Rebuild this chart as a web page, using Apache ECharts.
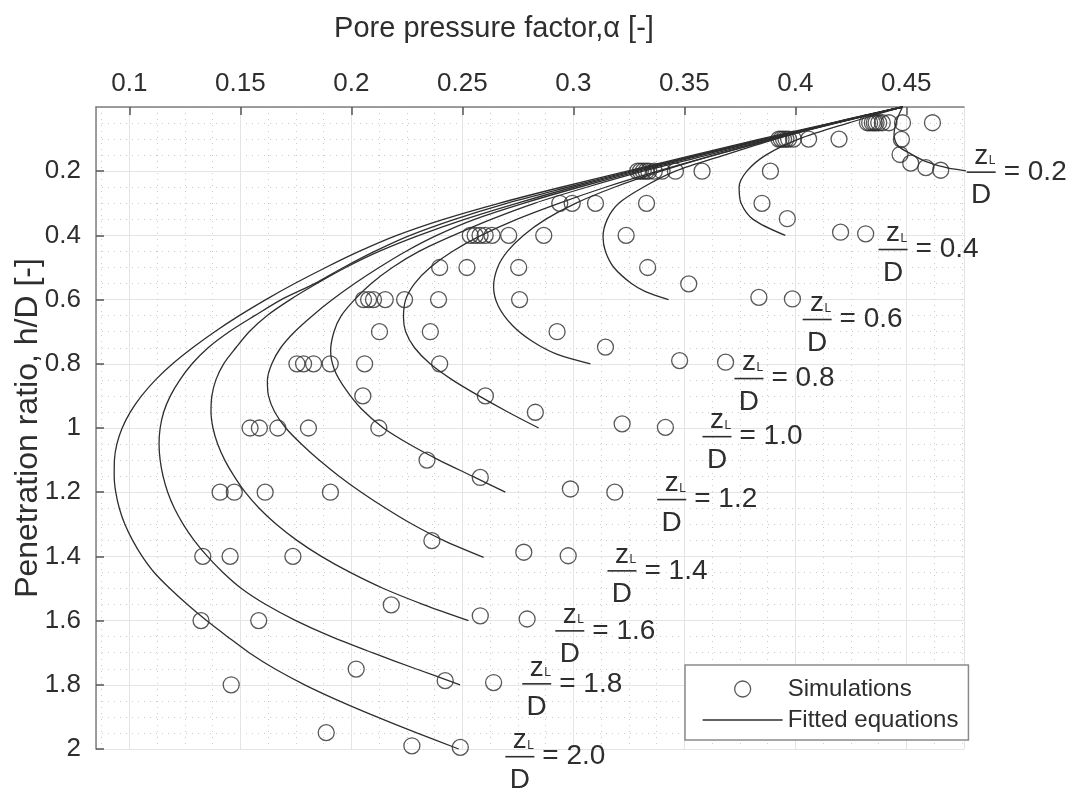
<!DOCTYPE html>
<html><head><meta charset="utf-8">
<script src="https://cdn.jsdelivr.net/npm/echarts@6/dist/echarts.min.js"></script>
<style>html,body{margin:0;padding:0;background:#fff}#c{width:1073px;height:789px}</style>
</head><body><div id="c"></div>
<script>
// ---------------- data (alpha, h/D) ----------------
const xTitle = 'Pore pressure factor,\u03b1 [-]';
const yTitle = 'Penetration ratio, h/D [-]';
const legendNames = ['Simulations', 'Fitted equations'];
const zLLabels = ['0.2','0.4','0.6','0.8','1.0','1.2','1.4','1.6','1.8','2.0'];

const fit02 = [[0.4483,0],[0.4458,0.04],[0.4445,0.083],[0.4462,0.12],[0.452,0.146],[0.4596,0.172],[0.4686,0.19],[0.478,0.2]];
const fit04 = [[0.4483,0],[0.4238,0.05],[0.4015,0.1],[0.3867,0.15],[0.3782,0.2],[0.3747,0.25],[0.3756,0.3],[0.381,0.35],[0.3955,0.4]];
const fit06 = [[0.4483,0],[0.4165,0.05],[0.391,0.1],[0.368,0.15],[0.346,0.2],[0.3315,0.25],[0.3205,0.3],[0.3153,0.35],[0.3134,0.405],[0.3145,0.45],[0.3183,0.5],[0.3262,0.55],[0.3325,0.575],[0.3429,0.6]];
const fit08 = [[0.4483,0],[0.4175,0.05],[0.39,0.1],[0.3635,0.15],[0.3395,0.2],[0.3185,0.25],[0.301,0.3],[0.2875,0.35],[0.2775,0.4],[0.2703,0.45],[0.2659,0.5],[0.2641,0.56],[0.2662,0.62],[0.2725,0.68],[0.2815,0.73],[0.2925,0.77],[0.3077,0.8]];
const fit10 = [[0.4483,0],[0.4185,0.05],[0.3905,0.1],[0.3635,0.15],[0.338,0.2],[0.3145,0.25],[0.2935,0.3],[0.2745,0.35],[0.2585,0.4],[0.2455,0.45],[0.2355,0.5],[0.2285,0.55],[0.2245,0.6],[0.2235,0.655],[0.2245,0.7],[0.2285,0.75],[0.2355,0.8],[0.2455,0.85],[0.2575,0.9],[0.2705,0.95],[0.2844,1.0]];
const fit12 = [[0.4483,0],[0.418,0.05],[0.389,0.1],[0.3605,0.15],[0.3315,0.2],[0.306,0.25],[0.2825,0.3],[0.263,0.35],[0.246,0.4],[0.2305,0.45],[0.2185,0.5],[0.209,0.55],[0.2015,0.6],[0.1955,0.65],[0.1922,0.7],[0.1907,0.76],[0.1925,0.82],[0.1975,0.88],[0.2045,0.94],[0.2145,1.0],[0.226,1.05],[0.2395,1.1],[0.2545,1.15],[0.2694,1.2]];
const fit14 = [[0.4483,0],[0.4175,0.05],[0.3875,0.1],[0.358,0.15],[0.3295,0.2],[0.3025,0.25],[0.2775,0.3],[0.2555,0.35],[0.2385,0.4],[0.2245,0.45],[0.2125,0.5],[0.2015,0.55],[0.1915,0.6],[0.1825,0.65],[0.1745,0.7],[0.1682,0.75],[0.1642,0.8],[0.1622,0.852],[0.1627,0.9],[0.1655,0.95],[0.1705,1.0],[0.1775,1.05],[0.1855,1.1],[0.1945,1.15],[0.2045,1.2],[0.2155,1.25],[0.2275,1.3],[0.2415,1.35],[0.2596,1.403]];
const fit16 = [[0.4483,0],[0.417,0.05],[0.3865,0.1],[0.3565,0.15],[0.3275,0.2],[0.3,0.25],[0.2745,0.3],[0.251,0.35],[0.2305,0.4],[0.2125,0.45],[0.1975,0.5],[0.1845,0.55],[0.1725,0.6],[0.162,0.65],[0.154,0.7],[0.148,0.75],[0.1425,0.8],[0.139,0.85],[0.1372,0.9],[0.1368,0.95],[0.1377,1.0],[0.1398,1.05],[0.143,1.1],[0.1472,1.15],[0.1522,1.2],[0.1585,1.25],[0.1662,1.3],[0.1755,1.35],[0.1865,1.4],[0.1995,1.45],[0.2145,1.5],[0.2325,1.55],[0.2528,1.6]];
const fit18 = [[0.4483,0],[0.4165,0.05],[0.3855,0.1],[0.3555,0.15],[0.326,0.2],[0.2975,0.25],[0.27,0.3],[0.2465,0.35],[0.2265,0.4],[0.2105,0.45],[0.1965,0.5],[0.1835,0.55],[0.1685,0.6],[0.1565,0.65],[0.145,0.7],[0.1355,0.75],[0.1283,0.8],[0.1228,0.85],[0.1185,0.9],[0.1155,0.95],[0.1139,1.0],[0.1134,1.05],[0.1139,1.1],[0.1152,1.15],[0.1173,1.2],[0.1203,1.25],[0.1243,1.3],[0.1292,1.35],[0.1352,1.4],[0.1422,1.45],[0.1505,1.5],[0.1615,1.55],[0.175,1.6],[0.191,1.65],[0.2095,1.7],[0.229,1.75],[0.249,1.8]];
const fit20 = [[0.4483,0],[0.416,0.05],[0.384,0.1],[0.354,0.15],[0.3243,0.2],[0.2945,0.25],[0.2665,0.3],[0.2415,0.35],[0.2205,0.4],[0.2035,0.45],[0.1885,0.5],[0.1745,0.55],[0.1615,0.6],[0.1495,0.65],[0.1385,0.7],[0.1285,0.75],[0.1195,0.8],[0.1118,0.85],[0.1055,0.9],[0.1005,0.95],[0.0968,1.0],[0.0944,1.05],[0.0933,1.1],[0.0932,1.15],[0.0939,1.2],[0.0955,1.25],[0.098,1.3],[0.1015,1.35],[0.1058,1.4],[0.1112,1.45],[0.1183,1.5],[0.1262,1.55],[0.1348,1.6],[0.1442,1.65],[0.154,1.7],[0.1655,1.75],[0.179,1.8],[0.1945,1.85],[0.2115,1.9],[0.2295,1.95],[0.2484,2.0]];

const simulations = [
  [0.4325,0.049],[0.4335,0.049],[0.4347,0.049],[0.4356,0.049],[0.4364,0.049],[0.4376,0.049],[0.4392,0.049],[0.4422,0.049],[0.4483,0.049],[0.4618,0.049],
  [0.3926,0.1],[0.3936,0.1],[0.3947,0.1],[0.3958,0.1],[0.397,0.1],[0.3992,0.1],[0.406,0.1],[0.4197,0.1],[0.4478,0.101],
  [0.4472,0.148],[0.452,0.175],[0.4588,0.189],[0.4655,0.197],
  [0.329,0.2],[0.3302,0.2],[0.3315,0.2],[0.3328,0.2],[0.334,0.2],[0.3365,0.2],[0.34,0.2],[0.346,0.2],[0.358,0.2],[0.3888,0.2],
  [0.2939,0.3],[0.2995,0.3],[0.31,0.3],[0.333,0.3],[0.385,0.3],
  [0.3964,0.348],[0.4204,0.39],[0.4317,0.395],
  [0.2536,0.4],[0.2558,0.4],[0.258,0.4],[0.2603,0.4],[0.2634,0.4],[0.2709,0.4],[0.2867,0.4],[0.3238,0.4],
  [0.2398,0.5],[0.2521,0.5],[0.2754,0.5],[0.3335,0.5],
  [0.352,0.551],[0.3836,0.593],[0.3987,0.598],
  [0.2055,0.6],[0.2078,0.6],[0.21,0.6],[0.2153,0.6],[0.224,0.6],[0.2393,0.6],[0.2758,0.6],
  [0.2127,0.7],[0.2356,0.7],[0.2927,0.7],
  [0.3145,0.748],[0.3479,0.79],[0.3686,0.795],
  [0.1755,0.8],[0.1785,0.8],[0.183,0.8],[0.1905,0.8],[0.206,0.8],[0.2398,0.8],
  [0.2052,0.9],[0.2604,0.9],
  [0.2829,0.951],[0.322,0.987],[0.3415,0.998],
  [0.1544,1.0],[0.1586,1.0],[0.1669,1.0],[0.1807,1.0],[0.2124,1.0],
  [0.2341,1.1],[0.2581,1.154],[0.2987,1.19],[0.3187,1.2],
  [0.1409,1.2],[0.1473,1.2],[0.1612,1.2],[0.1906,1.2],
  [0.1331,1.4],[0.1454,1.4],[0.1737,1.4],[0.2363,1.351],[0.2777,1.387],[0.2977,1.398],
  [0.1323,1.6],[0.1583,1.6],[0.218,1.551],[0.2581,1.585],[0.2792,1.595],
  [0.1459,1.8],[0.2022,1.751],[0.2423,1.787],[0.2641,1.793],
  [0.1887,1.949],[0.2273,1.99],[0.2491,1.995]
];

// anchor of each "zL/D = ..." annotation (left end of the fraction bar)
const labelAnchors = [[0.4772,0.203],[0.4375,0.444],[0.4033,0.662],[0.3726,0.846],[0.3582,1.027],[0.3378,1.223],[0.3154,1.445],[0.2919,1.632],[0.277,1.797],[0.2694,2.024]];

// ---------------- chart ----------------
const FONT = "'Liberation Sans', Arial, Helvetica, sans-serif";
const INK = '#2e2e2e';
const fits = [fit02, fit04, fit06, fit08, fit10, fit12, fit14, fit16, fit18, fit20];

function renderLabel(params, api) {
  const p = api.coord([api.value(0), api.value(1)]);
  const x = p[0], y = p[1];
  const txt = zLLabels[params.dataIndex];
  return {
    type: 'group',
    children: [
      {type: 'text', x: x + 14.5, y: y - 16, style: {text: 'z', align: 'center', verticalAlign: 'middle', font: '28px ' + FONT, fill: INK}},
      {type: 'text', x: x + 22, y: y - 11, style: {text: 'L', align: 'left', verticalAlign: 'middle', font: '12px ' + FONT, fill: INK}},
      {type: 'line', shape: {x1: x, y1: y, x2: x + 29, y2: y}, style: {stroke: INK, lineWidth: 1.6}},
      {type: 'text', x: x + 14.5, y: y + 23.5, style: {text: 'D', align: 'center', verticalAlign: 'middle', font: '28px ' + FONT, fill: INK}},
      {type: 'text', x: x + 37, y: y, style: {text: '= ' + txt, align: 'left', verticalAlign: 'middle', font: '28px ' + FONT, fill: INK}}
    ]
  };
}

const series = [{
  name: legendNames[0], type: 'scatter', data: simulations, symbol: 'circle', symbolSize: 16,
  itemStyle: {color: 'rgba(0,0,0,0)', borderColor: INK, borderWidth: 1.3}, z: 3, silent: true
}];
fits.forEach(f => series.push({
  name: legendNames[1], type: 'line', data: f, showSymbol: false, symbol: 'none', smooth: 0.3,
  itemStyle: {color: INK}, lineStyle: {color: INK, width: 1.3}, z: 4, silent: true
}));
series.push({type: 'custom', name: 'labels', renderItem: renderLabel, data: labelAnchors, z: 5, silent: true, clip: false});

const option = {
  animation: false,
  backgroundColor: '#ffffff',
  grid: {left: 96, right: 109, top: 107, bottom: 40, containLabel: false, outerBoundsMode: 'none'},
  legend: {
    data: [
      {name: legendNames[0], icon: 'circle', itemStyle: {color: 'rgba(0,0,0,0)', borderColor: INK, borderWidth: 1.3}},
      {name: legendNames[1], itemStyle: {opacity: 0}, lineStyle: {color: INK, width: 1.3}}
    ],
    orient: 'vertical', left: 685, top: 665,
    itemWidth: 80, itemHeight: 16, itemGap: 7,
    padding: [12, 10, 8, 17],
    borderColor: '#8a8a8a', borderWidth: 1.5, borderRadius: 0, backgroundColor: '#fff',
    textStyle: {fontSize: 24, color: INK, fontFamily: FONT}
  },
  xAxis: {
    type: 'value', position: 'top', min: 0.085, max: 0.476, splitNumber: 8,
    name: xTitle, nameLocation: 'middle', nameGap: 64, nameMoveOverlap: false,
    nameTextStyle: {fontSize: 29, color: INK, fontFamily: FONT, padding: [0, 72, 0, 0]},
    axisLine: {show: true, lineStyle: {color: '#808080', width: 1.5}},
    axisTick: {show: true, inside: true, length: 8, lineStyle: {color: '#555', width: 1.5}},
    axisLabel: {fontSize: 26, color: INK, fontFamily: FONT, margin: 10, showMinLabel: false, showMaxLabel: false},
    splitLine: {show: true, lineStyle: {color: '#e4e4e4', width: 1}},
    minorTick: {show: false, splitNumber: 4},
    minorSplitLine: {show: true, lineStyle: {color: '#cccccc', width: 1, type: [1, 5]}}
  },
  yAxis: {
    type: 'value', inverse: true, min: 0, max: 2, interval: 0.2,
    name: yTitle, nameLocation: 'middle', nameGap: 52, nameRotate: 90, nameMoveOverlap: false,
    nameTextStyle: {fontSize: 32, color: INK, fontFamily: FONT},
    axisLine: {show: true, lineStyle: {color: '#808080', width: 1.5}},
    axisTick: {show: true, inside: true, length: 8, lineStyle: {color: '#555', width: 1.5}},
    axisLabel: {fontSize: 26, color: INK, fontFamily: FONT, margin: 15, showMinLabel: false},
    splitLine: {show: true, lineStyle: {color: '#e4e4e4', width: 1}},
    minorTick: {show: false, splitNumber: 4},
    minorSplitLine: {show: true, lineStyle: {color: '#cccccc', width: 1, type: [1, 5]}}
  },
  series: series
};

const chart = echarts.init(document.getElementById('c'), null, {renderer: 'canvas'});
chart.setOption(option);
</script>
</body></html>
